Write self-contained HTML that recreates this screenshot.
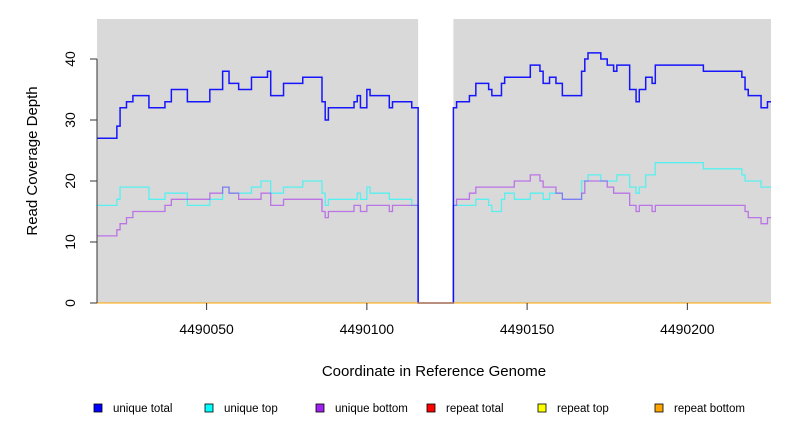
<!DOCTYPE html>
<html><head><meta charset="utf-8"><style>
html,body{margin:0;padding:0;background:#fff;}
svg{display:block;font-family:"Liberation Sans",sans-serif;}
</style></head><body>
<svg id="chart" width="792" height="432" viewBox="0 0 792 432"></svg>
<script>
const yTicks=[0,10,20,30,40];
const xTicks=[4490050,4490100,4490150,4490200];
const xTickLabels=["4490050","4490100","4490150","4490200"];
const base=4490000;
const domainX=[15.8,226.1];
const gap=[116,127];
const totalStartsL=[16,22,23,25,27,32,37,39,44,51,55,57,60,64,69,70,74,80,86,87,88,96,97,98,100,101,107,108,114];
const totalValsL=[27,29,32,33,34,32,33,35,33,35,38,36,35,37,38,34,36,37,33,30,32,33,34,32,35,34,32,33,32];
const totalStartsR=[127,128,132,134,138,139,142,143,151,154,155,157,159,161,167,168,169,173,175,177,178,182,184,185,187,189,190,205,217,218,219,223,225];
const totalValsR=[32,33,34,36,35,34,36,37,39,38,36,37,36,34,38,40,41,40,39,38,39,35,33,35,37,36,39,38,37,35,34,32,33];
const topStartsL=[16,22,23,32,37,44,51,55,57,64,67,70,74,80,86,87,88,97,98,100,101,107,114];
const topValsL=[16,17,19,17,18,16,17,19,18,19,20,18,19,20,18,16,17,18,17,19,18,17,16];
const topStartsR=[127,134,138,139,142,143,146,151,155,157,161,167,169,173,178,182,184,185,187,190,205,217,218,223];
const topValsR=[16,17,16,15,17,18,17,18,17,18,17,20,21,20,21,19,18,19,21,23,22,21,20,19];
const botStartsL=[16,22,23,25,27,37,39,51,55,57,60,67,70,74,86,87,88,96,98,100,107,108];
const botValsL=[11,12,13,14,15,16,17,18,19,18,17,18,16,17,15,14,15,16,15,16,15,16];
const botStartsR=[127,128,132,134,146,151,154,155,159,161,167,168,175,177,182,184,185,189,190,218,219,223,225];
const botValsR=[16,17,18,19,20,21,20,19,18,17,18,20,19,18,16,15,16,15,16,15,14,13,14];
const legendLabels=["unique total","unique top","unique bottom","repeat total","repeat top","repeat bottom"];
const legendColors=["#0000ff","#00ffff","#a020f0","#ff0000","#ffff00","#ffa500"];

const NS="http://www.w3.org/2000/svg";
const svg=document.getElementById('chart');
const L=97,R=771,T=19,B=303;
function sx(c){return L+(c-domainX[0])/(domainX[1]-domainX[0])*(R-L);}
function sy(v){return B-v*6.1;}
function mk(tag,attrs,parent){const e=document.createElementNS(NS,tag);for(const k in attrs)e.setAttribute(k,attrs[k]);(parent||svg).appendChild(e);return e;}

let bg1=mk('rect',{x:L,y:T,width:sx(gap[0])-L,height:B-T,fill:'#d9d9d9'});


let bg2=mk('rect',{x:sx(gap[1]),y:T,width:R-sx(gap[1]),height:B-T,fill:'#d9d9d9'});



function stepPath(sL,vL,sR,vR){
  let d='M'+L+','+sy(vL[0]);
  for(let i=0;i<sL.length;i++){const x0=i==0?L:sx(sL[i]);d+=' L'+x0+','+sy(vL[i]);const x1=i<sL.length-1?sx(sL[i+1]):sx(gap[0]);d+=' L'+x1+','+sy(vL[i]);}
  d+=' L'+sx(gap[0])+','+sy(0)+' L'+sx(gap[1])+','+sy(0);
  for(let i=0;i<sR.length;i++){const x0=sx(sR[i]);d+=' L'+x0+','+sy(vR[i]);const x1=i<sR.length-1?sx(sR[i+1]):R;d+=' L'+x1+','+sy(vR[i]);}
  return d;
}
let pTop=mk('path',{d:stepPath(topStartsL,topValsL,topStartsR,topValsR),fill:'none',stroke:'rgba(0,255,255,0.6)','stroke-width':1.3});


let pBot=mk('path',{d:stepPath(botStartsL,botValsL,botStartsR,botValsR),fill:'none',stroke:'rgba(160,32,240,0.55)','stroke-width':1.3});


let pTot=mk('path',{d:stepPath(totalStartsL,totalValsL,totalStartsR,totalValsR),fill:'none',stroke:'rgba(0,0,255,0.9)','stroke-width':1.5});


['#ff0000','#ffff00','#ffa500'].forEach((c,i)=>{
  let l=mk('line',{x1:L,x2:R,y1:sy(0),y2:sy(0),stroke:c,'stroke-width':1});
  
  
});

let ya=mk('line',{x1:L,x2:L,y1:sy(yTicks[0]),y2:sy(yTicks[yTicks.length-1]),stroke:'#333','stroke-width':1});


yTicks.forEach(v=>{
  let t=mk('line',{x1:L-7,x2:L,y1:sy(v),y2:sy(v),stroke:'#333'});
  
  
  let tx=mk('text',{x:0,y:0,transform:'translate(75,'+sy(v)+') rotate(-90)','text-anchor':'middle','font-size':14,fill:'#000'});
  tx.textContent=v;
  
  
});
xTicks.forEach((v,i)=>{
  const x=sx(v-base);
  let t=mk('line',{x1:x,x2:x,y1:B,y2:B+7,stroke:'#333'});
  
  
  let tx=mk('text',{x:x,y:334,'text-anchor':'middle','font-size':14,fill:'#000'});
  tx.textContent=xTickLabels[i];
  
  
});
let yt=mk('text',{x:0,y:0,transform:'translate(37,161) rotate(-90)','text-anchor':'middle','font-size':15,fill:'#000'});
yt.textContent='Read Coverage Depth';


let xt=mk('text',{x:434,y:376,'text-anchor':'middle','font-size':15,fill:'#000'});
xt.textContent='Coordinate in Reference Genome';



const legX=[94,205,316,427,538,655];
legendLabels.forEach((lab,i)=>{
  let r=mk('rect',{x:legX[i],y:404,width:8,height:8,fill:legendColors[i],stroke:'#000','stroke-width':0.8});
  
  
  let tx=mk('text',{x:legX[i]+19,y:412,'font-size':11.5,fill:'#000'});
  tx.textContent=lab;
  
  
});
</script>
</body></html>
